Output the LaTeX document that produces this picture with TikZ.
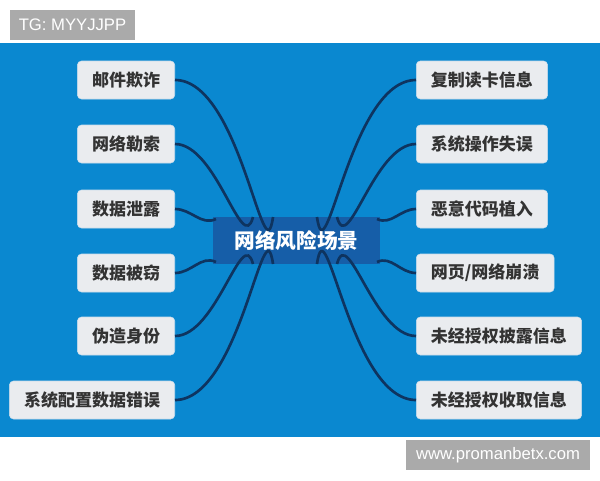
\documentclass[tikz,border=0pt]{standalone}
\usepackage{fontspec}
\setmainfont{Liberation Sans}
\newfontfamily\cjk{Noto Sans CJK SC}
\definecolor{bgblue}{RGB}{10,136,208}
\definecolor{hubblue}{RGB}{22,94,168}
\definecolor{linkblue}{RGB}{14,52,96}
\definecolor{boxgrey}{RGB}{234,236,239}
\definecolor{boxedge}{RGB}{200,220,236}
\definecolor{textgrey}{RGB}{51,51,51}
\definecolor{taggrey}{RGB}{170,170,170}
\tikzset{
riskbox/.style={draw=boxedge, line width=0.4pt, fill=boxgrey, rounded corners=3pt,
  minimum height=28.5pt, inner xsep=11pt, inner ysep=0pt, text=textgrey,
  font=\cjk\bfseries\fontsize{12.75}{15}\selectfont},
hubbox/.style={fill=hubblue, minimum width=125pt, minimum height=35pt, inner sep=0pt,
  text=white, font=\cjk\bfseries\fontsize{15.5}{18}\selectfont},
link/.style={draw=linkblue, line width=2pt},
tagbox/.style={fill=taggrey, text=white, inner sep=0pt, minimum height=22.5pt,
  font=\fontsize{12.5}{14}\selectfont}}
\tikzset{every picture/.style={line width=0.75pt}}

\begin{document}
\begin{tikzpicture}[x=0.75pt,y=0.75pt,yscale=-1,xscale=1]
\useasboundingbox (0,0) rectangle (600,480);

%Shape: Rectangle [background]
\fill [bgblue] (0,43) rectangle (600,437);

% Text Node
\node [tagbox, minimum width=93.75pt] (tg) at (72.5,25) {TG: MYYJJPP};
% Text Node
\node [tagbox, minimum width=138pt] (web) at (498,455) {www.promanbetx.com};

% Text Node
\node [hubbox] (hub) at (296.5,240.5) {网络风险场景};

% Text Node
\node [riskbox, anchor=east] (mail) at (175,80) {邮件欺诈};
\node [riskbox, anchor=east] (ransom) at (175,144) {网络勒索};
\node [riskbox, anchor=east] (leak) at (175,209) {数据泄露};
\node [riskbox, anchor=east] (theft) at (175,273) {数据被窃};
\node [riskbox, anchor=east] (forge) at (175,336) {伪造身份};
\node [riskbox, anchor=east] (config) at (175,400) {系统配置数据错误};

% Text Node
\node [riskbox, anchor=west] (copy) at (416,80) {复制读卡信息};
\node [riskbox, anchor=west] (operr) at (416,144) {系统操作失误};
\node [riskbox, anchor=west] (malcode) at (416,209) {恶意代码植入};
\node [riskbox, anchor=west] (crash) at (416,273) {网页/网络崩溃};
\node [riskbox, anchor=west] (disclose) at (416,336) {未经授权披露信息};
\node [riskbox, anchor=west] (collect) at (416,400) {未经授权收取信息};

%Points on the hub
\coordinate (nl1) at (273,217);
\coordinate (nl2) at (253,217);
\coordinate (nl3) at (216,219);
\coordinate (sl3) at (216,262);
\coordinate (sl2) at (253,264);
\coordinate (sl1) at (273,264);
\coordinate (nr1) at (317,217);
\coordinate (nr2) at (337,217);
\coordinate (nr3) at (377,219);
\coordinate (sr3) at (377,262);
\coordinate (sr2) at (337,264);
\coordinate (sr1) at (317,264);

%Curve Lines
\draw [link] (mail.east) to [out=0,in=98] (nl1);
\draw [link] (ransom.east) to [out=0,in=105] (nl2);
\draw [link] (leak.east) to [out=0,in=155] (nl3);
\draw [link] (theft.east) to [out=0,in=205] (sl3);
\draw [link] (forge.east) to [out=0,in=255] (sl2);
\draw [link] (config.east) to [out=0,in=262] (sl1);

\draw [link] (copy.west) to [out=180,in=82] (nr1);
\draw [link] (operr.west) to [out=180,in=75] (nr2);
\draw [link] (malcode.west) to [out=180,in=25] (nr3);
\draw [link] (crash.west) to [out=180,in=-25] (sr3);
\draw [link] (disclose.west) to [out=180,in=-75] (sr2);
\draw [link] (collect.west) to [out=180,in=-82] (sr1);

\end{tikzpicture}
\end{document}
